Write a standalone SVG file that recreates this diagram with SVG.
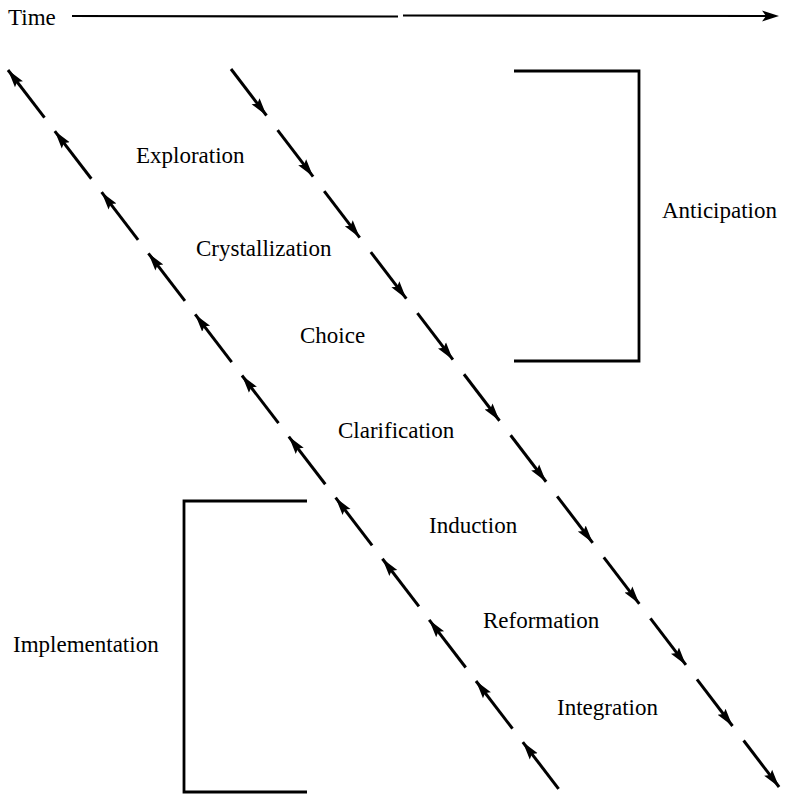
<svg xmlns="http://www.w3.org/2000/svg" width="786" height="794" viewBox="0 0 786 794">
  <style>
    .lbl { font-family: "Liberation Serif", "Times New Roman", serif; font-size: 23px; fill: #000; }
    .flow line { stroke: #000; stroke-width: 3; stroke-linecap: butt; marker-end: url(#head); }
    .bracket { fill: none; stroke: #000; stroke-width: 2.8; }
    .axis { stroke: #000; stroke-width: 2.2; fill: none; }
  </style>
  <defs>
    <marker id="head" markerUnits="userSpaceOnUse" markerWidth="20" markerHeight="14" viewBox="0 0 20 14" refX="18" refY="7" orient="auto">
      <path d="M0,2 L18,7 L0,12 L3,7 z" fill="#000"/>
    </marker>
  </defs>
  <rect width="786" height="794" fill="#fff"/>

  <!-- time axis -->
  <g id="time-axis">
    <text class="lbl" x="8" y="25">Time</text>
    <path class="axis" d="M72,16 L398,16.5 M403,15.5 L770,16"/>
    <path d="M762,10.5 L779,16 L762,21.5 L766,16 z" fill="#000"/>
  </g>

  <!-- stage labels -->
  <g id="exploration"><text class="lbl" x="136" y="163">Exploration</text></g>
  <g id="crystallization"><text class="lbl" x="196" y="256">Crystallization</text></g>
  <g id="choice"><text class="lbl" x="300" y="343">Choice</text></g>
  <g id="clarification"><text class="lbl" x="338" y="438">Clarification</text></g>
  <g id="induction"><text class="lbl" x="429" y="533">Induction</text></g>
  <g id="reformation"><text class="lbl" x="483" y="628">Reformation</text></g>
  <g id="integration"><text class="lbl" x="557" y="715">Integration</text></g>

  <!-- phase brackets -->
  <g id="anticipation">
    <path class="bracket" d="M514,71 L639,71 L639,361 L514,361"/>
    <text class="lbl" x="662" y="218">Anticipation</text>
  </g>
  <g id="implementation">
    <path class="bracket" d="M307,501 L184,501 L184,792 L307,792"/>
    <text class="lbl" x="13" y="652">Implementation</text>
  </g>

  <!-- dashed flow lines with arrowheads -->
  <g id="connectors" class="flow">
    <!-- upward line (arrowheads at upper ends) -->
    <g id="flow-up">
      <line x1="44.5" y1="117.65" x2="8" y2="70"/>
      <line x1="91.3" y1="178.75" x2="54.8" y2="131.10"/>
      <line x1="138.1" y1="239.85" x2="101.6" y2="192.19"/>
      <line x1="184.9" y1="300.94" x2="148.4" y2="253.29"/>
      <line x1="231.7" y1="362.04" x2="195.2" y2="314.39"/>
      <line x1="278.5" y1="423.14" x2="242.0" y2="375.49"/>
      <line x1="325.3" y1="484.24" x2="288.8" y2="436.58"/>
      <line x1="372.1" y1="545.33" x2="335.6" y2="497.68"/>
      <line x1="418.9" y1="606.43" x2="382.4" y2="558.78"/>
      <line x1="465.7" y1="667.53" x2="429.2" y2="619.88"/>
      <line x1="512.5" y1="728.62" x2="476.0" y2="680.97"/>
      <line x1="558.6" y1="788.8" x2="522.8" y2="742.07"/>
    </g>
    <!-- downward line (arrowheads at lower ends) -->
    <g id="flow-down">
      <line x1="231" y1="69" x2="266.5" y2="115.51"/>
      <line x1="277.6" y1="130.05" x2="313.1" y2="176.55"/>
      <line x1="324.2" y1="191.09" x2="359.7" y2="237.60"/>
      <line x1="370.8" y1="252.14" x2="406.3" y2="298.64"/>
      <line x1="417.4" y1="313.18" x2="452.9" y2="359.69"/>
      <line x1="464.0" y1="374.23" x2="499.5" y2="420.74"/>
      <line x1="510.6" y1="435.28" x2="546.1" y2="481.78"/>
      <line x1="557.2" y1="496.32" x2="592.7" y2="542.83"/>
      <line x1="603.8" y1="557.37" x2="639.3" y2="603.87"/>
      <line x1="650.4" y1="618.41" x2="685.9" y2="664.92"/>
      <line x1="697.0" y1="679.46" x2="732.5" y2="725.97"/>
      <line x1="743.6" y1="740.51" x2="779.1" y2="787.01"/>
    </g>
  </g>
</svg>
